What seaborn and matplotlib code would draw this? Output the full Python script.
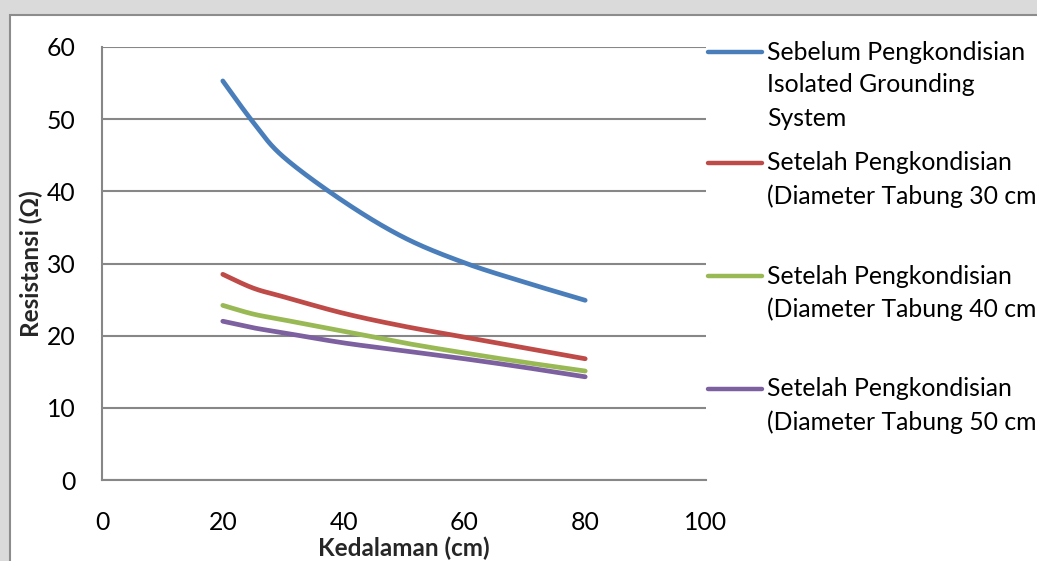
import numpy as np
import pandas as pd
import matplotlib
matplotlib.use("Agg")
import matplotlib.pyplot as plt
from matplotlib.patches import Rectangle
from matplotlib.lines import Line2D
import seaborn as sns

# Depth of the electrode (cm) and measured resistance (ohm) per condition
kedalaman = [20, 25, 30, 40, 50, 60, 70, 80]
sebelum = [55.3, 49.6, 44.8, 38.6, 33.6, 30.1, 27.4, 24.9]
tabung_30 = [28.5, 26.6, 25.4, 23.1, 21.3, 19.8, 18.3, 16.8]
tabung_40 = [24.2, 23.0, 22.2, 20.6, 19.0, 17.6, 16.3, 15.1]
tabung_50 = [22.0, 21.1, 20.4, 19.0, 17.9, 16.8, 15.6, 14.3]

series_labels = [
    "Sebelum Pengkondisian\nIsolated Grounding\nSystem",
    "Setelah Pengkondisian\n(Diameter Tabung 30 cm)",
    "Setelah Pengkondisian\n(Diameter Tabung 40 cm)",
    "Setelah Pengkondisian\n(Diameter Tabung 50 cm)",
]
series_values = [sebelum, tabung_30, tabung_40, tabung_50]
colors = ["#4A7EBB", "#BE4B48", "#98B954", "#7D60A0"]

x_ticks = [0, 20, 40, 60, 80, 100]
y_ticks = [0, 10, 20, 30, 40, 50, 60]


def smooth_curve(xs, ys, steps=40):
    """Cubic Bezier smoothing through every point (spreadsheet-style smoothed line)."""
    p = np.column_stack([xs, ys]).astype(float)
    n = len(p)
    out = []
    for i in range(n - 1):
        p0 = p[i - 1] if i > 0 else p[i]
        p1 = p[i]
        p2 = p[i + 1]
        p3 = p[i + 2] if i + 2 < n else p[i + 1]
        c1 = p1 + (p2 - p0) / 6.0
        c2 = p2 - (p3 - p1) / 6.0
        t = np.linspace(0, 1, steps, endpoint=(i == n - 2))[:, None]
        seg = ((1 - t) ** 3) * p1 + 3 * ((1 - t) ** 2) * t * c1 + 3 * (1 - t) * t ** 2 * c2 + t ** 3 * p2
        out.append(seg)
    out = np.vstack(out)
    return out[:, 0], out[:, 1]


sns.set_theme(style="white")
plt.rcParams["font.family"] = ["Lato", "DejaVu Sans"]

W, H = 1037, 561
FS = 17.8
fig = plt.figure(figsize=(W / 100, H / 100), dpi=100)
fig.patch.set_facecolor("#DADADA")

# white chart frame behind everything
frame = Rectangle((10 / W, -0.05), 1.1, (H - 15) / H + 0.05,
                  transform=fig.transFigure, facecolor="white",
                  edgecolor="#8C8C8C", linewidth=1.5, zorder=-5)
fig.patches.append(frame)

ax = fig.add_axes([102 / W, 1 - 480 / H, (706 - 102) / W, (480 - 47) / H])
ax.set_zorder(2)
ax.set_facecolor("none")

for vals, col in zip(series_values, colors):
    sx, sy = smooth_curve(kedalaman, vals)
    df = pd.DataFrame({"x": sx, "y": sy})
    sns.lineplot(data=df, x="x", y="y", sort=False, estimator=None, color=col,
                 linewidth=3.4, solid_capstyle="round", ax=ax, zorder=3)

ax.set_xlim(0, 100)
ax.set_ylim(0, 60)
ax.set_xticks(x_ticks)
ax.set_yticks(y_ticks)
ax.set_xticklabels([str(v) for v in x_ticks], fontsize=FS, color="black")
ax.set_yticklabels([str(v) for v in y_ticks], fontsize=FS, color="black")
ax.tick_params(axis="x", length=0, pad=22)
ax.tick_params(axis="y", length=0, pad=19)

ax.grid(axis="y", color="#878787", linewidth=1.5)
ax.grid(axis="x", visible=False)
for side in ["top", "right"]:
    ax.spines[side].set_visible(False)
for side in ["left", "bottom"]:
    ax.spines[side].set_color("#878787")
    ax.spines[side].set_linewidth(1.5)

ax.set_xlabel("Kedalaman (cm)", fontsize=17.5, fontweight="bold", labelpad=2)
ax.set_ylabel("Resistansi (Ω)", fontsize=17.5, fontweight="bold", labelpad=3)

# legend: swatch aligned with the first text line of each entry
entry_tops = [52, 163, 276, 389]
line_gap = 33
for label, col, top in zip(series_labels, colors, entry_tops):
    yy = 1 - top / H
    fig.lines.append(Line2D([708 / W, 762 / W], [yy, yy], transform=fig.transFigure,
                            color=col, linewidth=3.2, solid_capstyle="round", zorder=3))
    for k, part in enumerate(label.split("\n")):
        fig.text(767 / W, 1 - (top + k * line_gap) / H, part, fontsize=FS,
                 va="center", ha="left", color="black")

fig.savefig("out.png", dpi=100, facecolor=fig.get_facecolor())
